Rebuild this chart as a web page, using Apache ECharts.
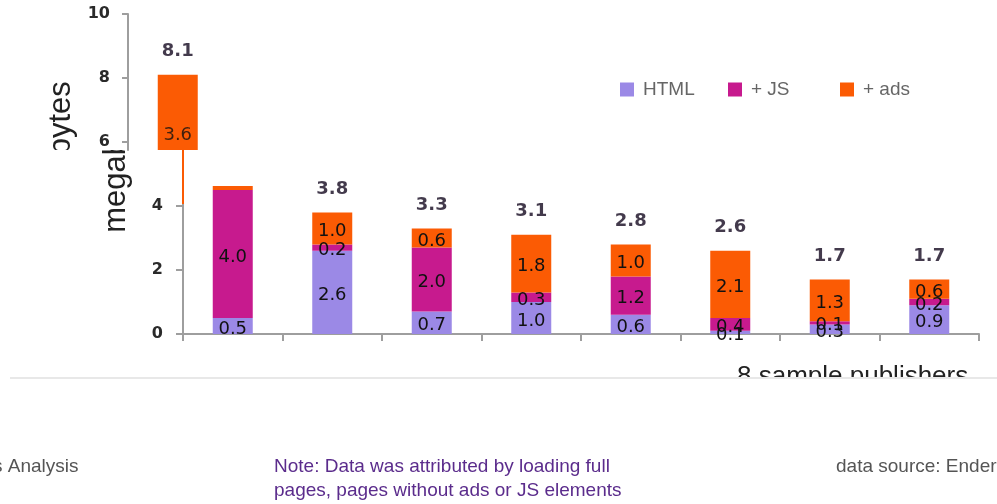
<!DOCTYPE html>
<html><head><meta charset="utf-8">
<script src="https://cdn.jsdelivr.net/npm/echarts@6/dist/echarts.min.js"></script>
<style>html,body{margin:0;padding:0;background:#fff}#c{width:997px;height:504px}</style>
</head><body><div id="c"></div>
<script>
// ---- data ----
const categories = ['Publisher 1', 'Publisher 2', 'Publisher 3', 'Publisher 4', 'Publisher 5', 'Publisher 6', 'Publisher 7', 'Publisher 8'];
const htmlMB = [0.5, 2.6, 0.7, 1.0, 0.6, 0.1, 0.3, 0.9];
const jsMB   = [4.0, 0.2, 2.0, 0.3, 1.2, 0.4, 0.1, 0.2];
const adsMB  = [3.6, 1.0, 0.6, 1.8, 1.0, 2.1, 1.3, 0.6];
const totalMB = [8.1, 3.8, 3.3, 3.1, 2.8, 2.6, 1.7, 1.7];
const yTickValues = [0, 2, 4, 6, 8, 10];
const upperTickValues = [6, 8, 10];
const seriesNames = ['HTML', '+ JS', '+ ads'];
const yTitle = 'megabytes';
const xTitle = '8 sample publishers';
const footLeft = 's Analysis';
const footNote = 'Note: Data was attributed by loading full\npages, pages without ads or JS elements';
const footSource = 'data source: Enders Analysis';

// ---- styles ----
const colors = ['#9b89e6', '#c71a8e', '#fb5b04'];
const axisColor = '#9e9e9e';
const segFont = { fontFamily: 'DejaVu Sans', fontSize: 18, color: '#111' };
const totFont = { fontFamily: 'DejaVu Sans', fontSize: 18, fontWeight: 'bold', color: '#14091f' };
const yLabFont = { fontFamily: 'DejaVu Sans', fontSize: 16, fontWeight: 'bold', color: '#2a2a2a' };

const adsMid = adsMB.map((v, i) => htmlMB[i] + jsMB[i] + v / 2);
const fmt = p => Number(p.value).toFixed(1);

function stackBars(grid, stack, z, withLabels) {
  return [htmlMB, jsMB, adsMB].map((d, k) => ({
    name: seriesNames[k], type: 'bar', stack: stack, barWidth: 40, clip: true,
    xAxisIndex: grid, yAxisIndex: grid, z: z,
    itemStyle: { color: colors[k] },
    label: withLabels ? Object.assign({ show: true, position: 'inside', offset: [0, 3], formatter: fmt }, segFont) : { show: false },
    data: d
  }));
}
function totals(grid, z) {
  return {
    type: 'scatter', xAxisIndex: grid, yAxisIndex: grid, z: z, clip: true,
    symbolSize: 1, itemStyle: { color: 'rgba(0,0,0,0)' }, silent: true,
    label: Object.assign({ show: true, position: 'top', distance: 14, formatter: fmt }, totFont),
    data: totalMB
  };
}

const chart = echarts.init(document.getElementById('c'), null, { renderer: 'canvas' });
const legendBase = { orient: 'horizontal', icon: 'rect', itemWidth: 14, itemHeight: 14, top: 80, padding: 0,
  textStyle: { fontFamily: 'Liberation Sans', fontSize: 19, color: '#666', padding: [0, 0, 0, 4] }, selectedMode: false };

chart.setOption({
  animation: false,
  backgroundColor: '#fff',
  legend: [
    Object.assign({ left: 620, data: [seriesNames[0]] }, legendBase),
    Object.assign({ left: 728, data: [seriesNames[1]] }, legendBase),
    Object.assign({ left: 840, data: [seriesNames[2]] }, legendBase)
  ],
  grid: [
    { left: 183, width: 796, top: 14, height: 320 },
    { left: 128, width: 796, top: 14, height: 136 }
  ],
  xAxis: [
    { gridIndex: 0, type: 'category', data: categories, boundaryGap: true,
      axisLine: { lineStyle: { color: axisColor, width: 2 } },
      axisTick: { show: true, length: 7, lineStyle: { color: axisColor, width: 2 } },
      axisLabel: { show: false } },
    { gridIndex: 1, type: 'category', data: categories, show: false }
  ],
  yAxis: [
    { gridIndex: 0, type: 'value', min: yTickValues[0], max: yTickValues[yTickValues.length - 1], interval: 2,
      splitLine: { show: false },
      axisLine: { show: true, lineStyle: { color: axisColor, width: 2 } },
      axisTick: { show: true, length: 7, lineStyle: { color: axisColor, width: 2 } },
      axisLabel: Object.assign({ margin: 20 }, yLabFont) },
    { gridIndex: 1, type: 'value', min: 5.75, max: 10, z: 60,
      splitLine: { show: false },
      axisLine: { show: true, lineStyle: { color: axisColor, width: 2 } },
      axisTick: { show: true, length: 6, customValues: upperTickValues, lineStyle: { color: axisColor, width: 2 } },
      axisLabel: Object.assign({ margin: 18, customValues: upperTickValues }, yLabFont) }
  ],
  series: [].concat(
    stackBars(0, 'main', 2, true),
    [totals(0, 3)],
    stackBars(1, 'upper', 60, false),
    [{
      type: 'scatter', xAxisIndex: 1, yAxisIndex: 1, z: 61, clip: true,
      symbolSize: 1, itemStyle: { color: 'rgba(0,0,0,0)' }, silent: true,
      label: Object.assign({ show: true, position: 'inside', offset: [0, 3],
        formatter: p => adsMB[p.dataIndex].toFixed(1) }, segFont),
      data: adsMid
    }],
    [totals(1, 61)]
  ),
  graphic: [
    { type: 'text', z: 1, x: 116, y: 157, rotation: Math.PI / 2,
      style: { text: yTitle, font: '31px "Liberation Sans"', fill: '#222', textAlign: 'center', textVerticalAlign: 'middle' } },
    { type: 'rect', z: 40, shape: { x: 0, y: 341, width: 997, height: 38 }, style: { fill: '#fff' } },
    { type: 'rect', z: 50, shape: { x: 0, y: 0, width: 255, height: 150 }, style: { fill: '#fff' } },
    { type: 'rect', z: 50, shape: { x: 184, y: 150, width: 71, height: 36 }, style: { fill: '#fff' } },
    { type: 'line', z: 51, shape: { x1: 183, y1: 150, x2: 183, y2: 204 }, style: { stroke: '#fb5b04', lineWidth: 2 } },
    { type: 'text', z: 65, x: 61, y: 157, rotation: Math.PI / 2,
      style: { text: yTitle, font: '31px "Liberation Sans"', fill: '#222', textAlign: 'center', textVerticalAlign: 'middle' } },
    { type: 'rect', z: 70, shape: { x: 0, y: 150, width: 100, height: 185 }, style: { fill: '#fff' } },
    { type: 'text', z: 75, x: 737, y: 364,
      style: { text: xTitle, font: '26px "Liberation Sans"', fill: '#222', textAlign: 'left', textVerticalAlign: 'top' } },
    { type: 'rect', z: 80, shape: { x: 0, y: 379, width: 997, height: 60 }, style: { fill: '#fff' } },
    { type: 'line', z: 81, shape: { x1: 10, y1: 378, x2: 997, y2: 378 }, style: { stroke: '#e8e8e8', lineWidth: 2 } },
    { type: 'text', z: 90, x: -7, y: 467,
      style: { text: footLeft, font: '19px "Liberation Sans"', fill: '#555', textAlign: 'left', textVerticalAlign: 'middle' } },
    { type: 'text', z: 90, x: 274, y: 455,
      style: { text: footNote, font: '19px "Liberation Sans"', fill: '#5b2c8c', textAlign: 'left', textVerticalAlign: 'top', lineHeight: 24 } },
    { type: 'text', z: 90, x: 836, y: 467,
      style: { text: footSource, font: '19px "Liberation Sans"', fill: '#555', textAlign: 'left', textVerticalAlign: 'middle' } }
  ]
});
</script></body></html>
